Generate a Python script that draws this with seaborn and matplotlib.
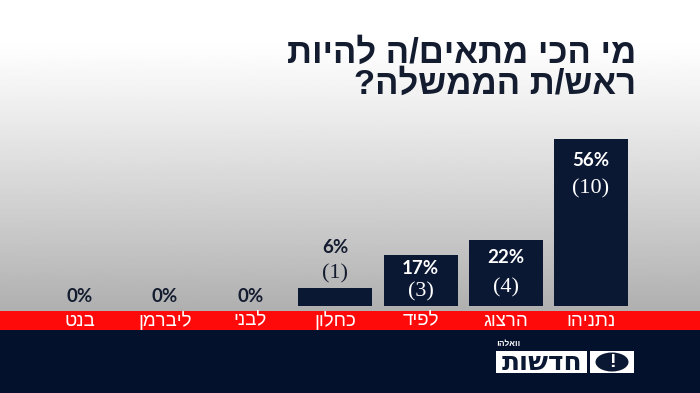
import numpy as np
import pandas as pd
import matplotlib.pyplot as plt
import seaborn as sns
from matplotlib.patches import Rectangle, Ellipse

# data (Hebrew kept in logical order, reversed only for drawing)
candidates = ["בנט", "ליברמן", "לבני", "כחלון", "לפיד", "הרצוג", "נתניהו"]
percent = [0, 0, 0, 6, 17, 22, 56]
counts = [None, None, None, 1, 3, 4, 10]
title_lines = ["מי הכי מתאים/ה להיות", "ראש/ת הממשלה?"]
brand_small = "וואלה!"
brand_big = "חדשות"

NAVY = "#0b1834"
RED = "#fe0a0a"
DARK_TXT = "#141c30"


def rtl(s):
    # matplotlib has no bidi support, so lay Hebrew out right-to-left by hand
    return s[::-1]


sns.set_theme(style="white")
plt.rcParams["font.family"] = ["Liberation Sans", "DejaVu Sans"]

W, H = 700, 393
fig = plt.figure(figsize=(7, 3.93), dpi=100)

# background layer in pixel coordinates
bg = fig.add_axes([0, 0, 1, 1])
bg.set_xlim(0, W)
bg.set_ylim(H, 0)
bg.axis("off")
yy = np.linspace(0, 311, 200)
shade = np.clip(1.0 - 0.31 * ((yy - 40) / 270).clip(0, 1) ** 1.1, 0, 1)
grad = np.repeat(shade[:, None], 2, axis=1)
bg.imshow(grad, cmap="gray", vmin=0, vmax=1, extent=[0, W, 311, 0], aspect="auto")
bg.add_patch(Rectangle((0, 311), W, 18.5, color=RED, lw=0))
bg.add_patch(Rectangle((0, 329.5), W, H - 329.5, color="#04112d", lw=0))

# title
for txt, base in zip(title_lines, [63, 94]):
    bg.text(636, base, rtl(txt), ha="right", va="baseline",
            fontsize=25, fontweight="bold", color=DARK_TXT)

# logo
bg.add_patch(Rectangle((496, 351), 91, 22, color="white", lw=0))
bg.text(541.5, 363, rtl(brand_big), ha="center", va="center",
        fontsize=19, fontweight="bold", family="DejaVu Sans", color=NAVY)
bg.add_patch(Rectangle((590, 351), 44, 22, color="white", lw=0))
bg.add_patch(Ellipse((612, 362), 33, 19, color=NAVY, lw=0))
bg.text(612, 362.5, "!", ha="center", va="center",
        fontsize=14, fontweight="bold", color="white")
bg.text(496, 344, rtl(brand_small), ha="left", va="center",
        fontsize=6, fontweight="bold", color="white")

# bar chart
px_per_unit = 167 / 56
ymax = 70
ax = fig.add_axes([37.4 / W, (H - 306) / H, 596 / W, ymax * px_per_unit / H])
ax.patch.set_alpha(0)

df = pd.DataFrame({"name": candidates, "pct": percent})
sns.barplot(data=df, x="name", y="pct", order=candidates, color=NAVY,
            saturation=1, width=0.87, linewidth=0, ax=ax)
ax.set_ylim(0, ymax)
ax.set_xlim(-0.5, len(candidates) - 0.5)
ax.set_xlabel("")
ax.set_ylabel("")
ax.set_xticks([])
ax.set_yticks([])
sns.despine(ax=ax, left=True, bottom=True)

for i, (name, p, c) in enumerate(zip(candidates, percent, counts)):
    ax.text(i, -15 / px_per_unit, rtl(name), ha="center", va="center",
            fontsize=13.5, color="white")
    h = p * px_per_unit
    if c is None:
        ax.annotate(f"{p}%", (i, p), xytext=(0, 9 * 0.72), textcoords="offset points",
                    ha="center", va="center", fontsize=13.5, fontweight="bold",
                    family="Lato", color=DARK_TXT)
    elif h < 40:
        ax.annotate(f"{p}%", (i, p), xytext=(0, 41 * 0.72), textcoords="offset points",
                    ha="center", va="center", fontsize=13.5, fontweight="bold",
                    family="Lato", color=DARK_TXT)
        ax.annotate(f"({c})", (i, p), xytext=(0, 14 * 0.72), textcoords="offset points",
                    ha="center", va="center", fontsize=16,
                    family="Liberation Serif", color=DARK_TXT)
    else:
        off_p = min(22, h * 0.26)
        off_c = min(50, h * 0.72)
        ax.annotate(f"{p}%", (i, p), xytext=(0, -off_p * 0.72), textcoords="offset points",
                    ha="center", va="center", fontsize=13.5, fontweight="bold",
                    family="Lato", color="white")
        ax.annotate(f"({c})", (i, p), xytext=(0, -off_c * 0.72), textcoords="offset points",
                    ha="center", va="center", fontsize=16,
                    family="Liberation Serif", color="white")

fig.savefig("out.png", dpi=100)
